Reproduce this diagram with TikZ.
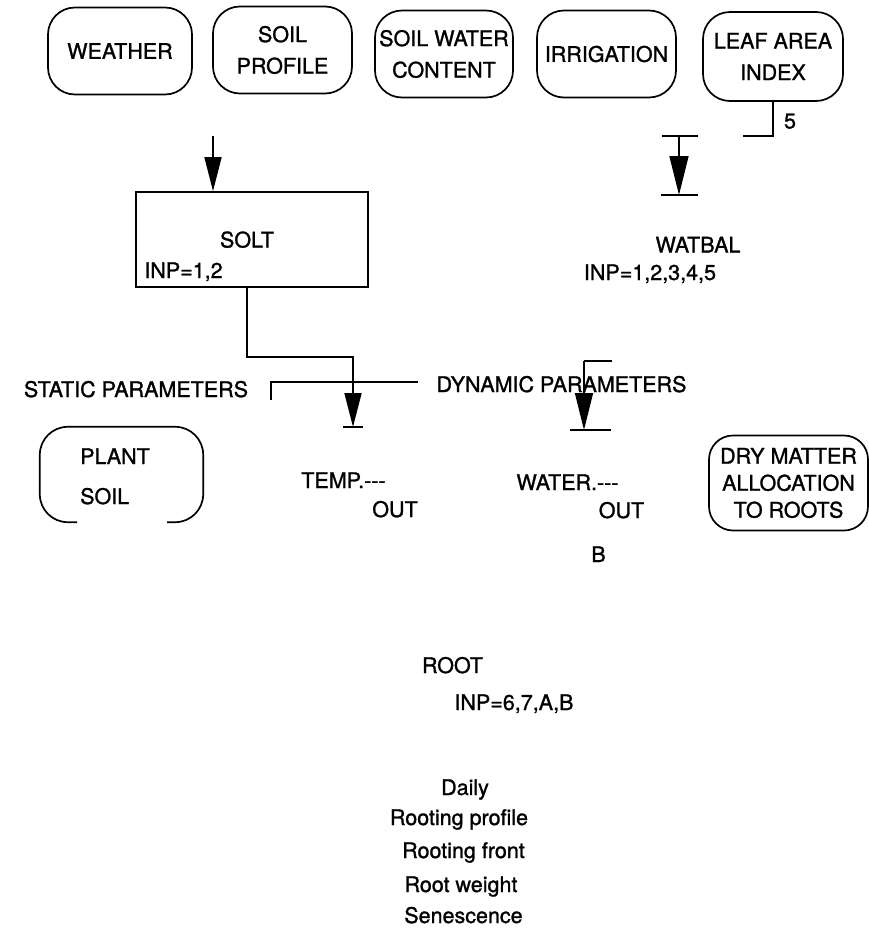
\documentclass[tikz,border=0pt]{standalone}
\usepackage{fontspec}
\setmainfont{TeX Gyre Heros}[FakeBold=1.2]
\usetikzlibrary{arrows.meta}
\begin{document}
\begin{tikzpicture}[x=1pt,y=-1pt,
  lbl/.style={font=\fontsize{21.5}{26}\selectfont, inner sep=0pt},
  topbox/.style={draw, line width=1.7pt, rounded corners=27pt, inner sep=0pt, align=center, font=\fontsize{21.5}{31.5}\selectfont},
  conn/.style={line width=1.7pt},
  arr/.style={conn, -{Triangle[length=34pt,width=17pt]}},
  bigarr/.style={conn, -{Triangle[length=39pt,width=19pt]}}]
\path[use as bounding box, fill=white] (0,0) rectangle (869,932);

% top row of inputs
\node[topbox, minimum width=144pt, minimum height=87pt] (weather) at (120,51) {WEATHER};
\node[topbox, minimum width=139pt, minimum height=87pt] (soilprof) at (282.5,50) {SOIL\\PROFILE};
\node[topbox, minimum width=138pt, minimum height=87pt] (swc) at (444,54) {SOIL WATER\\CONTENT};
\node[topbox, minimum width=139pt, minimum height=87pt] (irr) at (606.5,54) {IRRIGATION};
\node[topbox, minimum width=140pt, minimum height=89pt] (lai) at (773,56.5) {LEAF AREA\\INDEX};

% LAI connector and label 5
\coordinate (laiend) at (743,136);
\draw[conn] (lai.south) |- (laiend);
\node[lbl, anchor=base] (five) at (790,128.5) {5};

% SOLT
\node[draw, line width=1.7pt, minimum width=232pt, minimum height=95pt, inner sep=0pt] (solt) at (252,239.5) {};
\node[lbl, anchor=base] (solttitle) at (247,247.5) {SOLT};
\node[lbl, anchor=base] (soltinp) at (183.5,278) {INP=1,2};
\coordinate (soltin) at (213,136);
\draw[arr] (soltin) -- (soltin |- solt.north);

% WATBAL
\coordinate (wbtop) at (679,136);
\coordinate (wbend) at (679,195);
\draw[conn] ([xshift=-17pt]wbtop) -- ([xshift=19pt]wbtop);
\draw[bigarr] (wbtop) -- (wbend);
\draw[conn] ([xshift=-18pt]wbend) -- ([xshift=19pt]wbend);
\node[lbl, anchor=base] (watbal) at (698,252.5) {WATBAL};
\node[lbl, anchor=base] (watbalinp) at (650,280) {INP=1,2,3,4,5};

% SOLT output to TEMP
\coordinate (tempbend) at (353,357);
\coordinate (tempend) at (353,427);
\draw[arr] ([xshift=-5pt]solt.south) |- (tempbend) -- (tempend);
\draw[conn] ([xshift=-10pt]tempend) -- ([xshift=10pt]tempend);

% static / dynamic parameters line
\coordinate (statleft) at (271,400);
\coordinate (statright) at (418,382);
\draw[conn] (statleft) |- (statright);
\node[lbl, anchor=base] (static) at (136,397) {STATIC PARAMETERS};
\node[lbl, anchor=base] (dynamic) at (561.5,392) {DYNAMIC PARAMETERS};

% water arrow
\coordinate (wtop) at (584,361);
\coordinate (wstub) at (612,361);
\coordinate (wend) at (584,430);
\draw[line width=1.2pt] (wstub) -- (wtop);
\draw[conn, -{Triangle[length=37pt,width=18pt]}] (wtop) -- (wend);
\draw[conn] ([xshift=-14pt]wend) -- ([xshift=27pt]wend);

% plant / soil box with gap
\node[minimum width=163pt, minimum height=95pt, inner sep=0pt] (plantsoil) at (121.5,474.5) {};
\draw[conn, rounded corners=28pt] ([xshift=-44.5pt]plantsoil.south) -- (plantsoil.south west) -- (plantsoil.north west) -- (plantsoil.north east) -- (plantsoil.south east) -- ([xshift=45.5pt]plantsoil.south);
\node[lbl, anchor=base west] (plant) at (80,464) {PLANT};
\node[lbl, anchor=base west] (soilt) at (80,504) {SOIL};

% outputs
\node[lbl, anchor=base] (temp) at (343.5,488) {TEMP.{-}{-}{-}};
\node[lbl, anchor=base] (tempout) at (395,517) {OUT};
\node[lbl, anchor=base] (water) at (567.5,490) {WATER.{-}{-}{-}};
\node[lbl, anchor=base] (waterout) at (621.5,518) {OUT};
\node[lbl, anchor=base] (bee) at (598.5,562) {B};

% dry matter allocation
\node[topbox, rounded corners=24pt, minimum width=159pt, minimum height=95pt, font=\fontsize{21.5}{27}\selectfont] (dm) at (788.5,483) {DRY MATTER\\ALLOCATION\\TO ROOTS};

% ROOT
\node[lbl, anchor=base] (root) at (452.5,673) {ROOT};
\node[lbl, anchor=base] (rootinp) at (514,710) {INP=6,7,A,B};

\node[lbl, anchor=base] (daily) at (465,795) {Daily};
\node[lbl, anchor=base] (rprof) at (459,825) {Rooting profile};
\node[lbl, anchor=base] (rfront) at (463.5,858) {Rooting front};
\node[lbl, anchor=base] (rweight) at (461,892) {Root weight};
\node[lbl, anchor=base] (senes) at (463.5,923) {Senescence};
\end{tikzpicture}
\end{document}
